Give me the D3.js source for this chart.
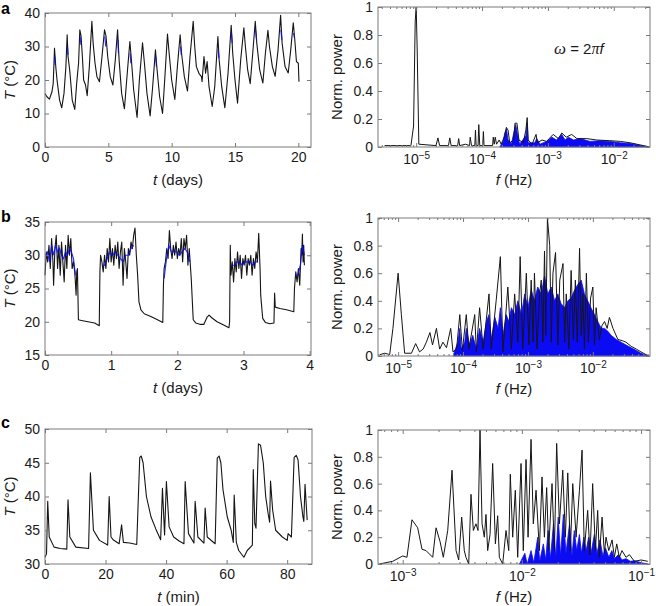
<!DOCTYPE html>
<html>
<head>
<meta charset="utf-8">
<script src="https://cdn.jsdelivr.net/npm/d3@7"></script>
<style>
    body { margin: 0; background: #fff; }
    svg { display: block; font-family: "Liberation Sans", Arial, Helvetica, sans-serif; }
    .axis path { display: none; }
    .axis line { stroke: #7a7a7a; stroke-width: 1; }
    .axis text { font-size: 14px; fill: #1a1a1a; font-family: "Liberation Sans", Arial, sans-serif; }
</style>
</head>
<body>
<svg id="fig" width="656" height="606"></svg>
<script>
// ---------- data ----------
// a: temperature over 20 days  [t (days), T (°C)]
var tempA = [[0,16],[0.15,15],[0.35,14.3],[0.55,16.5],[0.65,19],[0.75,29.5],[0.85,24],[0.95,20],[1.15,14],[1.32,11.7],
    [1.5,16],[1.65,24],[1.75,33.5],[1.82,27],[1.95,23],[2.15,14],[2.35,11.2],[2.5,19],[2.65,25],[2.75,35],[2.85,33],
    [2.95,27],[3.05,20],[3.2,18.5],[3.33,15.3],[3.5,24],[3.7,37.5],[3.8,31],[3.95,25],[4.1,21],[4.3,19.5],[4.5,27],
    [4.7,35],[4.82,33],[4.95,27],[5.15,21],[5.36,18.5],[5.55,26],[5.73,35],[5.85,26],[6.05,16],[6.27,11.4],[6.45,20],
    [6.7,31.5],[6.8,27],[7.0,17],[7.27,8.8],[7.45,20],[7.7,31.1],[7.85,25],[8.05,16],[8.3,9.3],[8.5,18],[8.72,29],
    [8.85,23],[9.05,15],[9.28,10],[9.45,20],[9.67,33.7],[9.8,28],[10.0,20],[10.25,14.2],[10.45,24],[10.67,33.5],
    [10.78,28],[11.0,21],[11.25,16.7],[11.45,27],[11.7,37.5],[11.82,30],[11.95,24],[12.15,22],[12.35,21],[12.4,19.5],
    [12.55,27],[12.68,22],[12.8,25.5],[12.95,18],[13.2,12.1],[13.4,18],[13.65,33],[13.75,26],[13.95,18],[14.2,11.7],
    [14.45,22],[14.7,36.3],[14.82,28],[15.0,20],[15.2,13.1],[15.45,26],[15.7,35.6],[15.82,30],[16.0,23],[16.2,18.9],
    [16.4,28],[16.6,37.5],[16.72,31],[16.95,23],[17.2,19.1],[17.4,28],[17.6,34.8],[17.72,30],[17.95,24],[18.17,21.1],
    [18.4,29],[18.6,39.3],[18.72,31],[18.95,24],[19.2,22.1],[19.4,29],[19.6,37.1],[19.72,32],[19.85,25.5],[20.0,25],[20.05,19.5]];
var tempABlue = [[0.76,27],[0.8,24.5],null,[1.77,30],[1.82,27.5],null,[2.77,33],[2.84,30.5],null,[4.72,33],[4.8,30],null,
    [5.75,32],[5.8,28],null,[6.72,28],[6.78,25],null,[8.73,27],[8.8,24],null,[10.7,30],[10.76,27.5],null,
    [13.67,29],[13.73,26.5],null,[14.72,34],[14.78,31],null,[16.62,35],[16.7,32],null,[18.62,35],[18.7,32],null,[19.62,34],[19.7,32.5]];

// b: temperature over 4 days
var tempB = [[0,27],[0.02,30.5],[0.04,29],[0.06,31.5],[0.08,28],[0.1,32.5],[0.12,29],[0.13,25.5],[0.15,31],[0.17,33],
    [0.19,28],[0.21,31.5],[0.23,27],[0.25,32],[0.27,29],[0.29,26],[0.31,31.5],[0.33,28],[0.35,33],[0.37,30],[0.39,32.5],
    [0.41,28],[0.43,29],[0.45,27.5],[0.47,24],[0.48,27.5],[0.49,28],[0.505,20.3],[0.55,20.2],[0.65,20.0],[0.75,19.8],
    [0.82,19.4],[0.83,27.5],[0.84,30],[0.86,29],[0.88,27.5],[0.9,30],[0.92,28],[0.94,31],[0.96,29],[0.98,32.5],[1.0,29],
    [1.02,31],[1.04,28.5],[1.06,31.5],[1.08,29.5],[1.1,32],[1.12,28],[1.14,30.5],[1.16,32],[1.18,25.5],[1.2,31],[1.22,29],
    [1.24,26.5],[1.26,31],[1.28,30],[1.3,32],[1.32,31],[1.34,33],[1.36,34.1],[1.38,30],[1.4,27],[1.42,23],[1.45,21.8],
    [1.5,21.2],[1.6,20.8],[1.7,20.3],[1.78,19.9],[1.79,25.5],[1.8,28],[1.82,29],[1.84,31],[1.86,29.5],[1.88,33.7],[1.9,31],
    [1.92,29.5],[1.94,31.5],[1.96,30],[1.98,32],[2.0,29.5],[2.02,31],[2.04,30],[2.06,32.5],[2.08,29],[2.1,32.5],[2.12,31],
    [2.14,33],[2.16,28.5],[2.18,31],[2.2,28],[2.21,26.5],[2.24,20.3],[2.28,19.8],[2.35,19.6],[2.4,19.6],[2.45,20.7],
    [2.48,21.0],[2.52,20.6],[2.6,20.0],[2.7,19.5],[2.78,19.1],[2.79,20],[2.8,31.5],[2.81,27],[2.83,29],[2.85,26],[2.87,29.5],
    [2.89,27.5],[2.91,30.5],[2.93,28],[2.95,30],[2.97,26.5],[2.99,29.5],[3.01,28.5],[3.03,30],[3.05,27],[3.07,29.5],
    [3.09,28.5],[3.11,30],[3.13,27],[3.15,29.5],[3.17,28],[3.19,30.5],[3.21,29],[3.23,33.3],[3.25,28],[3.26,24],[3.29,20.5],
    [3.33,19.9],[3.4,19.7],[3.46,19.8],[3.47,24.3],[3.48,22.2],[3.55,22.0],[3.65,21.8],[3.76,21.5],[3.77,25],[3.79,27.5],
    [3.81,26],[3.83,28],[3.85,25.5],[3.87,31],[3.88,30],[3.89,33.2],[3.9,29],[3.91,31.5],[3.92,28.5]];
var tempBBlue = [[0.01,30],[0.04,30.5],[0.07,29],[0.1,31.5],[0.13,30],[0.16,31.5],[0.19,30.5],[0.22,31],[0.25,30],[0.28,29.5],
    [0.31,30.5],[0.34,30],[0.37,31],[0.4,30.5],[0.43,29.5],[0.46,27],null,
    [0.86,28.5],[0.9,28.5],[0.94,29.5],[0.98,30.5],[1.02,30],[1.06,30.5],[1.1,30],[1.14,29.5],[1.18,29],[1.22,30],[1.26,30],
    [1.3,31],[1.34,31.5],null,
    [1.8,26.5],[1.83,29],[1.87,31.5],[1.91,30.5],[1.95,30.5],[1.99,30.5],[2.03,30],[2.07,30.5],[2.11,31],[2.15,30.5],[2.19,29],null,
    [2.82,28.5],[2.86,28.5],[2.9,29],[2.94,29],[2.98,28.5],[3.02,29],[3.06,29],[3.1,29],[3.14,28.5],[3.18,29],[3.22,29],null,
    [3.78,27],[3.82,27],[3.86,28.5],[3.89,31.5],[3.92,30]];

// c: temperature over 88 minutes
var tempC = [[0,31],[0.5,31.5],[0.9,39.3],[1.4,34],[3,32.5],[5,32.3],[7.2,32.2],[7.6,39.5],[8.2,34],[10.2,32.5],[14.4,32.3],
    [15.0,43.5],[16.0,35],[18.0,33.5],[20.7,32.8],[21.2,40],[21.8,34],[22.5,33.6],[24.5,33],[25.3,35.8],[25.9,33.2],[28,33.1],
    [30.3,32.9],[31.3,45.8],[31.8,46],[32.4,45],[33.5,40],[35,37],[36.6,35.2],[38.2,33.6],[38.8,41.2],[39.5,34.3],[40.1,42.2],
    [41.0,35.5],[42.5,34],[44.3,33.4],[45.9,33],[46.3,42.2],[47.4,34.5],[49.2,33.1],[49.6,39.3],[50.5,34],[52.5,33.1],
    [52.9,38.3],[53.6,34],[56.2,33],[56.9,45.7],[57.5,46],[58.1,45],[58.8,41],[60.2,37],[61.5,35],[62.2,33.2],[62.5,40.2],
    [63.2,33.2],[64,32],[65.7,31],[66.8,32],[68.5,32.8],[68.8,44],[69.3,36],[69.7,35.3],[70.5,47.8],[71.2,47.6],[72.1,45],
    [72.9,40],[73.7,37.5],[74.2,36.2],[74.5,42.3],[75.2,38],[76.2,35],[78.4,34],[80,33.5],[80.3,34.5],[81.4,34],[82.3,45.8],
    [83.0,46.1],[83.6,45.4],[84.4,40],[85.2,37],[85.5,36.3],[85.9,41.8],[86.6,36.5]];

// spectra: [log10 f (Hz), normalised power]
var specA = [[-5.48,0.01],[-5.08,0.01],[-5.04,0.15],[-5.015,0.9],[-5.0,1.0],[-4.985,0.7],[-4.96,0.02],[-4.7,0.01],[-4.67,0.065],
    [-4.645,0.01],[-4.51,0.01],[-4.49,0.065],[-4.47,0.01],[-4.37,0.01],[-4.355,0.06],[-4.34,0.01],[-4.25,0.02],[-4.19,0.01],
    [-4.18,0.07],[-4.16,0.01],[-4.11,0.01],[-4.1,0.12],[-4.09,0.01],[-4.06,0.01],[-4.05,0.16],[-4.035,0.01],[-3.99,0.01],
    [-3.98,0.11],[-3.97,0.01],[-3.84,0.01],[-3.83,0.07],[-3.815,0.02],[-3.8,0.07],[-3.78,0.02],[-3.74,0.05],[-3.71,0.02],
    [-3.655,0.08],[-3.63,0.14],[-3.605,0.12],[-3.58,0.03],[-3.52,0.05],[-3.5,0.17],[-3.47,0.17],[-3.44,0.05],[-3.375,0.03],
    [-3.335,0.12],[-3.315,0.21],[-3.3,0.05],[-3.24,0.02],[-3.18,0.09],[-3.16,0.03],[-3.09,0.05],[-3.02,0.04],[-2.92,0.09],
    [-2.84,0.06],[-2.79,0.1],[-2.72,0.07],[-2.64,0.09],[-2.56,0.06],[-2.41,0.06],[-2.26,0.05],[-2.06,0.045],[-1.9,0.04],
    [-1.75,0.03],[-1.6,0.015],[-1.5,0.005],[-1.46,0.0]];
var specABlue = [[-3.73,0],[-3.68,0.04],[-3.655,0.1],[-3.63,0.13],[-3.605,0.05],[-3.555,0.02],[-3.51,0.12],[-3.49,0.16],
    [-3.465,0.1],[-3.43,0.02],[-3.335,0.08],[-3.315,0.17],[-3.3,0.03],[-3.2,0.03],[-3.17,0.06],[-3.12,0.02],[-3.02,0.04],
    [-2.94,0.07],[-2.87,0.05],[-2.79,0.09],[-2.74,0.05],[-2.69,0.07],[-2.61,0.05],[-2.51,0.06],[-2.36,0.04],[-2.21,0.045],
    [-2.06,0.04],[-1.9,0.03],[-1.75,0.025],[-1.6,0.01],[-1.5,0]];

var specB = [[-5.28,0.01],[-5.205,0.02],[-5.13,0.01],[-5.08,0.2],[-5.0,0.6],[-4.95,0.3],[-4.9,0.02],[-4.795,0.02],[-4.73,0.09],
    [-4.67,0.03],[-4.615,0.05],[-4.565,0.1],[-4.51,0.17],[-4.47,0.08],[-4.41,0.2],[-4.36,0.05],[-4.31,0.1],[-4.255,0.06],
    [-4.19,0.2],[-4.155,0.03],[-4.1,0.05],[-4.05,0.3],[-4.01,0.04],[-3.95,0.3],[-3.91,0.05],[-3.82,0.3],[-3.795,0.03],
    [-3.745,0.35],[-3.69,0.05],[-3.6,0.45],[-3.565,0.05],[-3.49,0.4],[-3.425,0.72],[-3.385,0.03],[-3.31,0.5],[-3.255,0.05],
    [-3.205,0.45],[-3.155,0.1],[-3.12,0.72],[-3.08,0.05],[-3.025,0.6],[-2.985,0.08],[-2.95,0.55],[-2.92,0.1],[-2.9,0.6],
    [-2.86,0.05],[-2.82,0.45],[-2.795,0.55],[-2.77,0.1],[-2.745,0.76],[-2.725,0.15],[-2.7,1.0],[-2.665,0.8],[-2.64,0.1],
    [-2.615,0.6],[-2.575,0.75],[-2.54,0.08],[-2.51,0.55],[-2.46,0.67],[-2.435,0.1],[-2.41,0.45],[-2.37,0.05],[-2.335,0.62],
    [-2.3,0.12],[-2.27,0.55],[-2.24,0.1],[-2.205,0.78],[-2.18,0.15],[-2.155,0.45],[-2.13,0.05],[-2.1,0.6],[-2.07,0.1],
    [-2.035,0.42],[-2.0,0.5],[-1.975,0.08],[-1.95,0.35],[-1.9,0.12],[-1.86,0.22],[-1.82,0.25],[-1.78,0.2],[-1.745,0.28],
    [-1.69,0.2],[-1.615,0.12],[-1.54,0.11],[-1.49,0.1],[-1.41,0.07],[-1.33,0.05],[-1.26,0.03],[-1.18,0.01],[-1.13,0.0]];
var specBBlue = [[-4.155,0],[-4.08,0.1],[-4.05,0.2],[-4.03,0.05],[-3.975,0.1],[-3.95,0.2],[-3.9,0.08],[-3.85,0.15],[-3.795,0.05],
    [-3.745,0.2],[-3.69,0.1],[-3.64,0.25],[-3.6,0.3],[-3.565,0.12],[-3.51,0.28],[-3.46,0.2],[-3.425,0.35],[-3.385,0.15],
    [-3.335,0.3],[-3.295,0.25],[-3.255,0.35],[-3.205,0.3],[-3.155,0.4],[-3.1,0.3],[-3.05,0.45],[-3.0,0.35],[-2.95,0.48],
    [-2.9,0.4],[-2.85,0.5],[-2.795,0.45],[-2.745,0.58],[-2.695,0.45],[-2.64,0.5],[-2.59,0.4],[-2.54,0.45],[-2.49,0.38],
    [-2.435,0.35],[-2.385,0.4],[-2.335,0.42],[-2.28,0.48],[-2.23,0.52],[-2.18,0.55],[-2.13,0.45],[-2.08,0.4],[-2.03,0.35],
    [-1.975,0.3],[-1.925,0.25],[-1.87,0.2],[-1.82,0.2],[-1.77,0.18],[-1.72,0.15],[-1.64,0.12],[-1.565,0.1],[-1.49,0.08],
    [-1.41,0.06],[-1.33,0.04],[-1.26,0.02],[-1.155,0]];

var specC = [[-3.196,0.0],[-3.084,0.02],[-3.0,0.06],[-2.964,0.05],[-2.922,0.33],[-2.874,0.27],[-2.838,0.11],[-2.804,0.1],
    [-2.748,0.05],[-2.72,0.27],[-2.687,0.17],[-2.659,0.05],[-2.622,0.25],[-2.586,0.7],[-2.552,0.1],[-2.53,0.03],[-2.505,0.35],
    [-2.483,0.1],[-2.469,0.05],[-2.446,0.0],[-2.427,0.52],[-2.407,0.25],[-2.385,0.3],[-2.368,0.25],[-2.351,1.0],[-2.334,0.3],
    [-2.315,0.2],[-2.301,0.37],[-2.287,0.1],[-2.267,0.22],[-2.245,0.75],[-2.222,0.15],[-2.203,0.36],[-2.189,0.05],[-2.161,0.0],
    [-2.133,0.25],[-2.11,0.1],[-2.097,0.67],[-2.077,0.2],[-2.055,0.55],[-2.035,0.05],[-2.007,0.75],[-1.988,0.1],[-1.965,0.78],
    [-1.948,0.2],[-1.923,0.93],[-1.904,0.3],[-1.881,0.55],[-1.853,0.1],[-1.831,0.65],[-1.811,0.2],[-1.792,0.57],[-1.775,0.1],
    [-1.747,0.6],[-1.727,0.1],[-1.708,0.9],[-1.685,0.3],[-1.657,0.7],[-1.635,0.2],[-1.615,0.68],[-1.593,0.1],[-1.573,0.6],
    [-1.545,0.2],[-1.517,0.55],[-1.495,0.85],[-1.476,0.1],[-1.448,0.4],[-1.428,0.07],[-1.406,0.6],[-1.383,0.1],[-1.364,0.4],
    [-1.35,0.05],[-1.327,0.35],[-1.308,0.08],[-1.294,0.2],[-1.271,0.1],[-1.243,0.18],[-1.224,0.05],[-1.204,0.15],[-1.182,0.05],
    [-1.16,0.1],[-1.126,0.05],[-1.098,0.07],[-1.056,0.02],[-1.0,0.03],[-0.944,0.02]];
var specCBlue = [[-2.02,0],[-1.975,0.08],[-1.955,0],[-1.923,0.1],[-1.9,0.01],[-1.867,0.2],[-1.85,0.02],[-1.82,0.15],[-1.8,0.03],
    [-1.78,0.25],[-1.76,0.04],[-1.735,0.3],[-1.715,0.05],[-1.695,0.35],[-1.675,0.06],[-1.652,0.37],[-1.63,0.08],[-1.6,0.3],
    [-1.58,0.06],[-1.56,0.25],[-1.54,0.1],[-1.517,0.22],[-1.5,0.08],[-1.48,0.2],[-1.46,0.1],[-1.44,0.2],[-1.42,0.08],
    [-1.392,0.22],[-1.37,0.08],[-1.345,0.18],[-1.32,0.06],[-1.299,0.12],[-1.27,0.05],[-1.245,0.1],[-1.224,0.04],
    [-1.19,0.07],[-1.16,0.03],[-1.126,0.04],[-1.09,0.02],[-1.056,0.025],[-1.0,0.01],[-0.944,0.0]];

// tick values
var ticksA = [0, 5, 10, 15, 20], yTicksA = [0, 10, 20, 30, 40];
var ticksB = [0, 1, 2, 3, 4], yTicksB = [15, 20, 25, 30, 35];
var ticksC = [0, 20, 40, 60, 80], yTicksC = [30, 35, 40, 45, 50];
var powTicks = [0, 0.2, 0.4, 0.6, 0.8, 1];
var decA = [1e-5, 1e-4, 1e-3, 1e-2], decB = [1e-5, 1e-4, 1e-3, 1e-2], decC = [1e-3, 1e-2, 1e-1];

// ---------- drawing ----------
var svg = d3.select('#fig');
var BLACK = '#151515', BLUE = '#0c0cf2';

var addAxes = function(g, x, y, box, o) {
    var bottom = d3.axisBottom(x).tickValues(o.xTicks).tickSizeInner(-4).tickSizeOuter(0).tickPadding(o.log ? 7 : 5);
    var left = d3.axisLeft(y).tickValues(o.yTicks).tickSizeInner(-4).tickSizeOuter(0).tickPadding(5);
    if (o.log) bottom.tickFormat(function() { return ''; });
    else bottom.tickFormat(d3.format('d'));
    left.tickFormat(o.yFormat || d3.format('d'));

    var gb = g.append('g').attr('class', 'axis').attr('transform', 'translate(0,' + box.y1 + ')').call(bottom);
    g.append('g').attr('class', 'axis').attr('transform', 'translate(0,' + box.y0 + ')')
        .call(d3.axisTop(x).tickValues(o.xTicks).tickSizeInner(-4).tickSizeOuter(0).tickFormat(''));
    g.append('g').attr('class', 'axis').attr('transform', 'translate(' + box.x0 + ',0)').call(left);
    g.append('g').attr('class', 'axis').attr('transform', 'translate(' + box.x1 + ',0)')
        .call(d3.axisRight(y).tickValues(o.yTicks).tickSizeInner(-4).tickSizeOuter(0).tickFormat(''));

    if (o.log) {
        // powers of ten with superscript exponents
        gb.selectAll('.tick text').each(function(d) {
            var t = d3.select(this);
            t.append('tspan').text('10');
            t.append('tspan').attr('dy', '-0.5em').style('font-size', '10px')
                .text('\u2212' + Math.round(-Math.log10(d)));
        });
        var minor = x.ticks().filter(function(v) {
            var e = Math.log10(v);
            return Math.abs(e - Math.round(e)) > 1e-6;
        });
        g.append('g').attr('class', 'axis').attr('transform', 'translate(0,' + box.y1 + ')')
            .call(d3.axisBottom(x).tickValues(minor).tickSizeInner(-2).tickSizeOuter(0).tickFormat(''));
        g.append('g').attr('class', 'axis').attr('transform', 'translate(0,' + box.y0 + ')')
            .call(d3.axisTop(x).tickValues(minor).tickSizeInner(-2).tickSizeOuter(0).tickFormat(''));
    }

    g.append('rect')
        .attr('x', box.x0).attr('y', box.y0)
        .attr('width', box.x1 - box.x0).attr('height', box.y1 - box.y0)
        .attr('fill', 'none').attr('stroke', '#7a7a7a').attr('stroke-width', 1);

    // axis titles
    var xt = g.append('text')
        .attr('x', (box.x0 + box.x1) / 2).attr('y', box.y1 + 38)
        .attr('text-anchor', 'middle').style('font-size', '15px').attr('fill', '#1a1a1a');
    xt.append('tspan').style('font-style', 'italic').text(o.xVar);
    xt.append('tspan').text(' (' + o.xUnit + ')');

    var yt = g.append('text')
        .attr('transform', 'translate(' + o.yTitleX + ',' + (box.y0 + box.y1) / 2 + ') rotate(-90)')
        .attr('text-anchor', 'middle').style('font-size', '15px').attr('fill', '#1a1a1a');
    if (o.yVar) {
        yt.append('tspan').style('font-style', 'italic').text(o.yVar);
        yt.append('tspan').text(' (\u00b0C)');
    } else {
        yt.text(o.yTitle);
    }
};

var timePanel = function(o) {
    var box = o.box;
    var g = svg.append('g');
    var x = d3.scaleLinear().domain(o.xDomain).range([box.x0, box.x1]);
    var y = d3.scaleLinear().domain(o.yDomain).range([box.y1, box.y0]);

    var line = d3.line()
        .defined(function(d) { return d !== null; })
        .x(function(d) { return x(d[0]); })
        .y(function(d) { return y(d[1]); });

    g.append('path').datum(o.data).attr('d', line)
        .attr('fill', 'none').attr('stroke', BLACK).attr('stroke-width', 1.1).attr('stroke-linejoin', 'round');
    if (o.blue) {
        g.append('path').datum(o.blue).attr('d', line)
            .attr('fill', 'none').attr('stroke', BLUE).attr('stroke-width', 1.2).attr('opacity', 0.85);
    }

    addAxes(g, x, y, box, {
        xTicks: o.xTicks, yTicks: o.yTicks, log: false,
        xVar: 't', xUnit: o.xUnit, yVar: 'T', yTitleX: 15
    });

    svg.append('text').attr('x', 1).attr('y', o.letterY)
        .style('font-size', '16px').style('font-weight', 'bold').attr('fill', '#000').text(o.letter);
};

var specPanel = function(o) {
    var box = o.box;
    var g = svg.append('g');
    var x = d3.scaleLog().domain(o.xDomain).range([box.x0, box.x1]);
    var y = d3.scaleLinear().domain([0, 1]).range([box.y1, box.y0]);
    var fx = function(d) { return x(Math.pow(10, d[0])); };

    g.append('path').datum(o.blue)
        .attr('d', d3.area().x(fx).y0(y(0)).y1(function(d) { return y(d[1]); }))
        .attr('fill', BLUE).attr('stroke', BLUE).attr('stroke-width', 0.8);

    g.append('path').datum(o.data)
        .attr('d', d3.line().x(fx).y(function(d) { return y(d[1]); }))
        .attr('fill', 'none').attr('stroke', BLACK).attr('stroke-width', 1).attr('stroke-linejoin', 'round');

    addAxes(g, x, y, box, {
        xTicks: o.decades, yTicks: powTicks, log: true,
        yFormat: function(d) { return d === 0 || d === 1 ? String(d) : d3.format('.1f')(d); },
        xVar: 'f', xUnit: 'Hz', yTitle: 'Norm. power', yTitleX: 342
    });
    return g;
};

timePanel({ data: tempA, blue: tempABlue, xDomain: [0, 21], yDomain: [0, 40], xTicks: ticksA, yTicks: yTicksA,
    xUnit: 'days', box: { x0: 45, x1: 311, y0: 13, y1: 147 }, letter: 'a', letterY: 14 });
timePanel({ data: tempB, blue: tempBBlue, xDomain: [0, 4.02], yDomain: [15, 35], xTicks: ticksB, yTicks: yTicksB,
    xUnit: 'days', box: { x0: 45, x1: 311, y0: 222, y1: 355 }, letter: 'b', letterY: 222 });
timePanel({ data: tempC, xDomain: [0, 88.2], yDomain: [30, 50], xTicks: ticksC, yTicks: yTicksC,
    xUnit: 'min', box: { x0: 45, x1: 312, y0: 429, y1: 564 }, letter: 'c', letterY: 428 });

var ga = specPanel({ data: specA, blue: specABlue, xDomain: [Math.pow(10, -5.58), Math.pow(10, -1.45)], decades: decA,
    box: { x0: 378, x1: 650, y0: 7, y1: 147 } });
specPanel({ data: specB, blue: specBBlue, xDomain: [Math.pow(10, -5.31), Math.pow(10, -1.12)], decades: decB,
    box: { x0: 378, x1: 650, y0: 218, y1: 356 } });
specPanel({ data: specC, blue: specCBlue, xDomain: [Math.pow(10, -3.207), Math.pow(10, -0.925)], decades: decC,
    box: { x0: 378, x1: 650, y0: 430, y1: 564 } });

// omega = 2 pi f annotation
var om = ga.append('text').attr('x', 554).attr('y', 54).style('font-size', '15px').attr('fill', '#1a1a1a');
om.append('tspan').style('font-family', '"Liberation Serif", serif').style('font-style', 'italic').style('font-size', '17px').text('\u03c9');
om.append('tspan').text(' = 2');
om.append('tspan').style('font-family', '"Liberation Serif", serif').style('font-style', 'italic').style('font-size', '16px').text('\u03c0');
om.append('tspan').style('font-style', 'italic').text('f');
</script>
</body>
</html>
